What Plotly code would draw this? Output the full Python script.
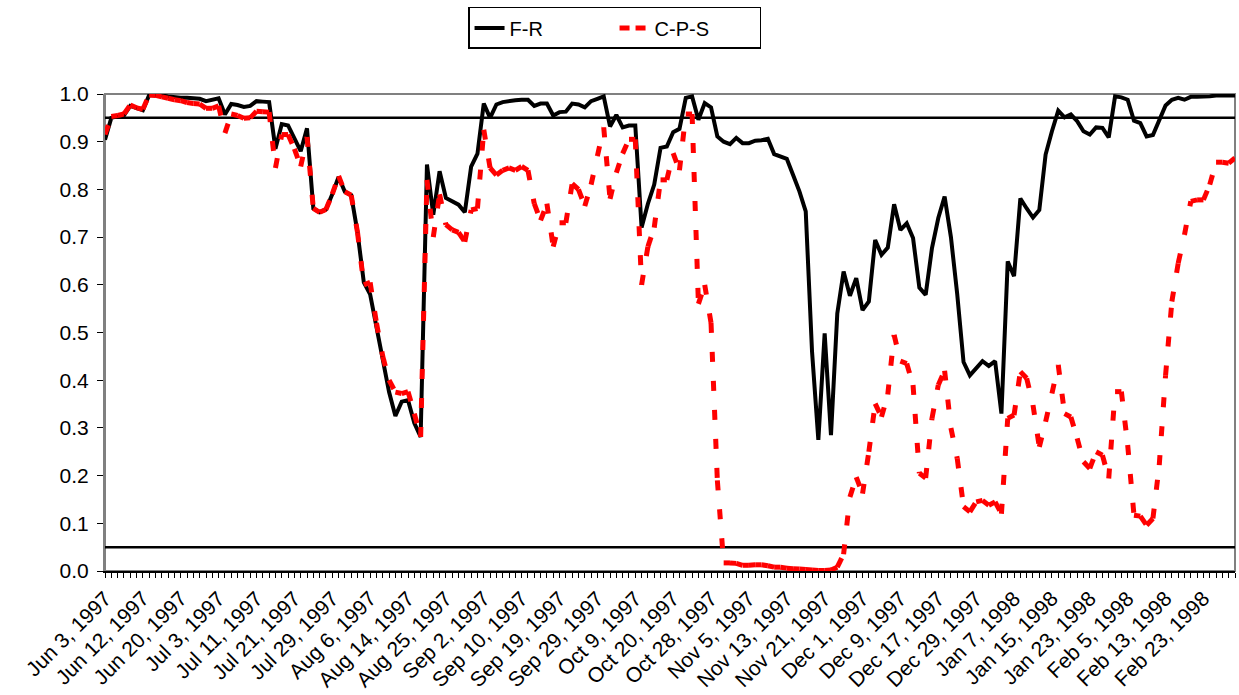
import plotly.graph_objects as go

# Tick labels shown every 6th trading day (categorical axis)
TICK_LABELS = [
    "Jun 3, 1997", "Jun 12, 1997", "Jun 20, 1997", "Jul 3, 1997", "Jul 11, 1997",
    "Jul 21, 1997", "Jul 29, 1997", "Aug 6, 1997", "Aug 14, 1997", "Aug 25, 1997",
    "Sep 2, 1997", "Sep 10, 1997", "Sep 19, 1997", "Sep 29, 1997", "Oct 9, 1997",
    "Oct 20, 1997", "Oct 28, 1997", "Nov 5, 1997", "Nov 13, 1997", "Nov 21, 1997",
    "Dec 1, 1997", "Dec 9, 1997", "Dec 17, 1997", "Dec 29, 1997", "Jan 7, 1998",
    "Jan 15, 1998", "Jan 23, 1998", "Feb 5, 1998", "Feb 13, 1998", "Feb 23, 1998",
]
LABEL_STEP = 6

F_R = [
    0.904, 0.950, 0.953, 0.955, 0.975, 0.970, 0.966, 0.998, 0.998, 0.997,
    0.995, 0.993, 0.992, 0.992, 0.991, 0.990, 0.985, 0.988, 0.991, 0.957,
    0.979, 0.977, 0.973, 0.975, 0.985, 0.984, 0.983, 0.885, 0.937, 0.934,
    0.905, 0.880, 0.928, 0.760, 0.752, 0.758, 0.790, 0.826, 0.795, 0.788,
    0.710, 0.605, 0.580, 0.510, 0.440, 0.375, 0.325, 0.355, 0.358, 0.310,
    0.281, 0.852, 0.747, 0.838, 0.782, 0.775, 0.768, 0.752, 0.848, 0.875,
    0.980, 0.950, 0.978, 0.983, 0.986, 0.987, 0.988, 0.988, 0.975, 0.980,
    0.980, 0.955, 0.962, 0.963, 0.980, 0.978, 0.972, 0.985, 0.990, 0.995,
    0.932, 0.956, 0.930, 0.934, 0.934, 0.720, 0.770, 0.810, 0.887, 0.890,
    0.920, 0.927, 0.992, 0.995, 0.946, 0.981, 0.972, 0.911, 0.900, 0.895,
    0.908, 0.897, 0.897, 0.902, 0.903, 0.906, 0.874, 0.870, 0.864, 0.830,
    0.796, 0.754, 0.460, 0.275, 0.498, 0.285, 0.540, 0.628, 0.577, 0.614,
    0.547, 0.565, 0.694, 0.663, 0.678, 0.769, 0.715, 0.729, 0.698, 0.594,
    0.579, 0.677, 0.740, 0.785, 0.700, 0.580, 0.438, 0.410, 0.425, 0.440,
    0.430, 0.440, 0.330, 0.649, 0.618, 0.781, 0.760, 0.741, 0.757, 0.873,
    0.922, 0.965, 0.951, 0.957, 0.943, 0.922, 0.915, 0.930, 0.929, 0.909,
    0.995, 0.993, 0.988, 0.944, 0.939, 0.911, 0.914, 0.943, 0.976, 0.988,
    0.992, 0.988, 0.994, 0.994, 0.994, 0.995, 0.997, 0.997, 0.997, 0.997,
]

C_P_S = [
    0.915, 0.953, 0.955, 0.958, 0.977, 0.971, 0.968, 0.998, 0.997, 0.994,
    0.991, 0.988, 0.986, 0.982, 0.980, 0.979, 0.970, 0.970, 0.975, 0.918,
    0.958, 0.955, 0.949, 0.950, 0.964, 0.963, 0.962, 0.845, 0.915, 0.915,
    0.885, 0.848, 0.910, 0.760, 0.752, 0.758, 0.790, 0.828, 0.795, 0.788,
    0.710, 0.600, 0.605, 0.520, 0.450, 0.400, 0.375, 0.372, 0.376, 0.330,
    0.281, 0.820, 0.700, 0.790, 0.726, 0.715, 0.710, 0.690, 0.757, 0.760,
    0.925, 0.845, 0.830, 0.840, 0.845, 0.840, 0.848, 0.840, 0.770, 0.735,
    0.770, 0.680, 0.730, 0.730, 0.812, 0.800, 0.765, 0.810, 0.870, 0.930,
    0.780, 0.835, 0.875, 0.905, 0.905, 0.600, 0.680, 0.720, 0.820, 0.820,
    0.876, 0.840, 0.958, 0.958, 0.560, 0.600, 0.520, 0.190, 0.017, 0.017,
    0.016, 0.012, 0.012, 0.013, 0.013, 0.011, 0.008, 0.008, 0.006, 0.005,
    0.004, 0.003, 0.002, 0.001, 0.001, 0.002, 0.008, 0.035, 0.155, 0.197,
    0.162, 0.250, 0.351, 0.323, 0.370, 0.495, 0.440, 0.435, 0.390, 0.205,
    0.195, 0.320, 0.390, 0.420, 0.300, 0.236, 0.135, 0.124, 0.145, 0.148,
    0.138, 0.145, 0.120, 0.320, 0.327, 0.418, 0.404, 0.348, 0.260, 0.313,
    0.372, 0.432, 0.330, 0.323, 0.278, 0.229, 0.215, 0.250, 0.243, 0.194,
    0.376, 0.376, 0.264, 0.117, 0.115, 0.096, 0.110, 0.222, 0.410, 0.565,
    0.645, 0.705, 0.775, 0.778, 0.778, 0.810, 0.857, 0.857, 0.855, 0.866,
]

REF_LINES = [0.05, 0.95]

n = len(F_R)
x = list(range(n))
ticktext = [TICK_LABELS[i // LABEL_STEP] if i % LABEL_STEP == 0 and i // LABEL_STEP < len(TICK_LABELS) else ""
            for i in x]

FONT = "Liberation Sans, Arial, sans-serif"
RED_DASH = "10px,19px"
RED_W = 5

fig = go.Figure()
fig.add_trace(go.Scatter(
    x=x, y=F_R, mode="lines", name="F-R",
    line=dict(color="black", width=4),
))
# legend entry for the dashed series
fig.add_trace(go.Scatter(
    x=[None], y=[None], mode="lines", name="C-P-S",
    line=dict(color="#ff0000", width=RED_W, dash="10px,6px"),
))
# dashed series drawn segment by segment (dash pattern restarts at every point, as in the original)
for i in range(n - 1):
    fig.add_trace(go.Scatter(
        x=[x[i], x[i + 1]], y=[C_P_S[i], C_P_S[i + 1]], mode="lines",
        line=dict(color="#ff0000", width=RED_W, dash=RED_DASH),
        showlegend=False, hoverinfo="skip",
    ))

shapes = [
    dict(type="rect", xref="paper", yref="paper", x0=0, x1=1, y0=0, y1=1,
         line=dict(color="#808080", width=2), layer="below"),
]
for v in REF_LINES:
    shapes.append(dict(type="line", xref="paper", yref="y", x0=0, x1=1, y0=v, y1=v,
                       line=dict(color="black", width=2.5), layer="below"))

fig.update_layout(
    width=1239, height=695,
    margin=dict(l=105, r=4, t=94, b=124, autoexpand=False),
    paper_bgcolor="white", plot_bgcolor="white",
    font=dict(family=FONT, size=20, color="black"),
    shapes=shapes,
    showlegend=True,
    legend=dict(
        orientation="h", xref="container", yref="container",
        x=0.496, xanchor="center", y=0.99, yanchor="top",
        bordercolor="black", borderwidth=1.5, bgcolor="white",
        font=dict(family=FONT, size=20, color="black"),
        itemwidth=30, entrywidth=100, entrywidthmode="pixels", tracegroupgap=0,
    ),
    xaxis=dict(
        range=[0, n - 1], tickmode="array", tickvals=x, ticktext=ticktext,
        tickangle=-45, ticks="outside", ticklen=5, tickwidth=1, tickcolor="black",
        showline=True, linecolor="black", linewidth=2,
        showgrid=False, zeroline=False, automargin=False,
        tickfont=dict(family=FONT, size=21, color="black"),
    ),
    yaxis=dict(
        range=[0, 1.0], tickmode="linear", tick0=0, dtick=0.1, tickformat=".1f",
        ticks="outside", ticklen=6, tickwidth=1, tickcolor="black",
        showline=True, linecolor="#808080", linewidth=2,
        showgrid=False, zeroline=False, ticklabelstandoff=4, automargin=False,
        tickfont=dict(family=FONT, size=21, color="black"),
    ),
)

fig.write_html("out.html")
